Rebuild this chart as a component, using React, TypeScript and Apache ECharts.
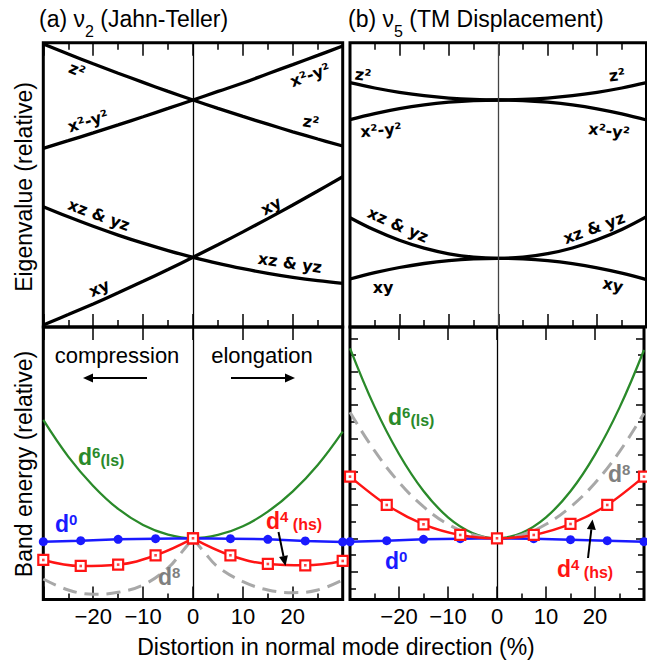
import React, { useEffect, useRef } from 'react';
import * as echarts from 'echarts';

// ---------- data ----------
const X_STEP5 = [-30, -25, -20, -15, -10, -5, 0, 5, 10, 15, 20, 25, 30];
const X_POINTS = [-30, -22.5, -15, -7.5, 0, 7.5, 15, 22.5, 30];
const X_D8_JT = [-30, -25, -20, -15, -10, -5, -2.5, 0, 2.5, 5, 10, 15, 20, 25, 30];

// (a) nu2 Jahn-Teller eigenvalues (relative)
const JT_Z2 = [28.3, 27.3, 26.32, 25.38, 24.46, 23.56, 22.7, 21.86, 21.06, 20.28, 19.52, 18.8, 18.1];
const JT_X2Y2 = [17.87, 18.63, 19.41, 20.21, 21.03, 21.86, 22.7, 23.56, 24.4, 25.33, 26.24, 27.16, 28.1];
const JT_XZYZ = [12.03, 11.02, 10.07, 9.19, 8.38, 7.64, 6.97, 6.36, 5.83, 5.36, 4.96, 4.63, 4.37];
const JT_XY = [0.2, 1.24, 2.31, 3.42, 4.57, 5.75, 6.97, 8.22, 9.51, 10.84, 12.2, 13.6, 15.03];

// (b) nu5 TM displacement eigenvalues (relative)
const TM_Z2 = [24.43, 23.9, 23.47, 23.13, 22.89, 22.75, 22.7, 22.75, 22.89, 23.13, 23.47, 23.9, 24.43];
const TM_X2Y2 = [20.73, 21.33, 21.83, 22.21, 22.48, 22.65, 22.7, 22.65, 22.48, 22.21, 21.82, 21.31, 20.7];
const TM_XZYZ = [10.93, 9.69, 8.67, 7.88, 7.32, 6.98, 6.87, 6.98, 7.33, 7.9, 8.72, 9.75, 11.03];
const TM_XY = [4.8, 5.43, 5.95, 6.35, 6.64, 6.81, 6.87, 6.81, 6.63, 6.33, 5.92, 5.39, 4.73];

// band energies (relative), Jahn-Teller
const JT_D0 = [-0.1, -0.07, -0.03, -0.01, 0, -0.01, -0.03, -0.08, -0.11];
const JT_D4 = [-0.65, -0.83, -0.79, -0.51, 0, -0.51, -0.77, -0.81, -0.68];
const JT_D6 = [3.55, 2.45, 1.57, 0.88, 0.4, 0.11, 0, 0.1, 0.36, 0.8, 1.41, 2.2, 3.2];
const JT_D8 = [-1.22, -1.55, -1.68, -1.62, -1.4, -0.89, -0.46, 0, -0.46, -0.86, -1.3, -1.55, -1.63, -1.55, -1.25];

// band energies (relative), TM displacement
const TM_D0 = [-0.1, -0.07, -0.03, -0.01, 0, -0.01, -0.04, -0.07, -0.1];
const TM_D4 = [1.85, 1.0, 0.42, 0.1, 0, 0.1, 0.43, 1.0, 1.85];
const TM_D6 = [5.7, 3.95, 2.53, 1.42, 0.63, 0.16, 0, 0.16, 0.63, 1.41, 2.51, 3.92, 5.65];
const TM_D8 = [3.78, 2.63, 1.68, 0.95, 0.42, 0.11, 0, 0.1, 0.42, 0.94, 1.66, 2.6, 3.75];

// axes
const X_RANGE = [-30, 30];
const EIG_RANGE = [0, 28.43];
const BAND_RANGE = [-1.836, 6.339];
const BAND_MAJOR_TICKS = [-1, 0, 1, 2, 3, 4, 5, 6];
const BAND_MINOR_TICKS = [-1.5, -0.5, 0.5, 1.5, 2.5, 3.5, 4.5, 5.5];

// ---------- styling ----------
const FONT = 'Liberation Sans, Arial, Helvetica, sans-serif';
const LBL_FONT = 'DejaVu Sans, Verdana, sans-serif';
const GREEN = '#2a8a2a';
const BLUE = '#1a1aff';
const RED = '#ff1414';
const GRAY = '#a8a8a8';
const GRAY_TXT = '#808080';

const zip = (xs: number[], ys: number[]) => xs.map((x, i) => [x, ys[i]]);
const half = (pts: number[][], side: number) =>
  pts.filter((p) => (side < 0 ? p[0] <= 0 : p[0] >= 0));

function xAxisDef(gridIndex: number, position: string, minor: boolean, labels: boolean, minorLen: number) {
  return {
    type: 'value',
    gridIndex,
    position,
    min: X_RANGE[0],
    max: X_RANGE[1],
    interval: 10,
    axisLine: { show: false, onZero: false },
    axisTick: { show: true, inside: true, length: 13, lineStyle: { color: '#000', width: 1.5 } },
    minorTick: { show: minor, splitNumber: 2, length: minorLen, lineStyle: { color: '#000', width: 1.5 } },
    splitLine: { show: false },
    minorSplitLine: { show: false },
    axisLabel: {
      show: labels,
      fontSize: 22,
      fontFamily: FONT,
      color: '#000',
      margin: 6,
      formatter: (v: number) =>
        v === -30 || v === 30 ? '' : v < 0 ? '\u2212' + Math.abs(v) : String(v),
    },
  };
}

function yAxisDef(gridIndex: number, range: number[], position = 'left', ticks: number[] | null = null, len = 8) {
  return {
    type: 'value',
    gridIndex,
    position,
    min: range[0],
    max: range[1],
    axisLine: { show: false, onZero: false },
    axisTick: ticks
      ? { show: true, inside: true, length: len, customValues: ticks, lineStyle: { color: '#000', width: 1.5 } }
      : { show: false },
    axisLabel: { show: false },
    splitLine: { show: false },
  };
}

const centerLine = (color: string) => ({
  silent: true,
  symbol: 'none',
  label: { show: false },
  lineStyle: { color, width: 1.3, type: 'solid' },
  data: [{ xAxis: 0 }],
});

function eigLine(xi: number, yi: number, ys: number[], mark?: string) {
  const s: any = {
    type: 'line',
    xAxisIndex: xi,
    yAxisIndex: yi,
    data: zip(X_STEP5, ys),
    smooth: 0.4,
    symbol: 'none',
    showSymbol: false,
    silent: true,
    lineStyle: { color: '#000', width: 3.3 },
    z: 3,
  };
  if (mark) s.markLine = centerLine(mark);
  return s;
}

function plainLine(xi: number, yi: number, data: number[][], color: string, width: number, dashed: boolean, smooth: number, mark?: string) {
  const s: any = {
    type: 'line',
    xAxisIndex: xi,
    yAxisIndex: yi,
    data,
    smooth,
    symbol: 'none',
    showSymbol: false,
    silent: true,
    lineStyle: { color, width, type: dashed ? [14, 8] : 'solid' },
    z: 3,
  };
  if (mark) s.markLine = centerLine(mark);
  return s;
}

function blueLine(xi: number, yi: number, ys: number[]) {
  return {
    type: 'line',
    xAxisIndex: xi,
    yAxisIndex: yi,
    data: zip(X_POINTS, ys),
    symbol: 'circle',
    symbolSize: 9,
    silent: true,
    itemStyle: { color: BLUE },
    lineStyle: { color: BLUE, width: 2.5 },
    z: 4,
  };
}

function redLine(xi: number, yi: number, data: number[][], smooth: number) {
  return {
    type: 'line',
    xAxisIndex: xi,
    yAxisIndex: yi,
    data,
    smooth,
    symbol: 'rect',
    symbolSize: 10,
    silent: true,
    itemStyle: { color: '#fff', borderColor: RED, borderWidth: 2.2 },
    lineStyle: { color: RED, width: 2.5 },
    z: 5,
  };
}

function redDots(xi: number, yi: number, ys: number[]) {
  return {
    type: 'scatter',
    xAxisIndex: xi,
    yAxisIndex: yi,
    data: zip(X_POINTS, ys),
    symbol: 'rect',
    symbolSize: 2.6,
    silent: true,
    itemStyle: { color: RED },
    z: 6,
  };
}

function orbLabel(text: string, x: number, y: number, rotation: number) {
  return {
    type: 'text',
    x,
    y,
    rotation,
    z: 20,
    silent: true,
    style: {
      text,
      fontSize: 16,
      fontWeight: 'bold',
      fontFamily: LBL_FONT,
      fill: '#000',
      align: 'center',
      verticalAlign: 'middle',
    },
  };
}

function dLabel(sup: string, tail: string, color: string, x: number, y: number) {
  return {
    type: 'text',
    z: 20,
    silent: true,
    style: {
      x,
      y,
      text: '{d|d}{p|' + sup + '}' + (tail ? '{q|' + tail + '}' : ''),
      verticalAlign: 'top',
      align: 'left',
      rich: {
        d: { fontSize: 23, fontWeight: 'bold', fontFamily: FONT, fill: color, lineHeight: 23, verticalAlign: 'bottom' },
        p: { fontSize: 15, fontWeight: 'bold', fontFamily: FONT, fill: color, lineHeight: 15, verticalAlign: 'top' },
        q: { fontSize: 16, fontWeight: 'bold', fontFamily: FONT, fill: color, lineHeight: 16, verticalAlign: 'bottom' },
      },
    },
  };
}

function panelTitle(letter: string, sub: string, rest: string, x: number) {
  return {
    type: 'text',
    z: 20,
    silent: true,
    style: {
      x,
      y: 7,
      text: '{m|(' + letter + ') \u03bd}{s|' + sub + '}{m| ' + rest + '}',
      verticalAlign: 'top',
      align: 'left',
      rich: {
        m: { fontSize: 23, fontFamily: FONT, fill: '#000', lineHeight: 26, verticalAlign: 'top' },
        s: { fontSize: 16, fontFamily: FONT, fill: '#000', lineHeight: 16, padding: [16, 0, 0, 0], verticalAlign: 'top' },
      },
    },
  };
}

function arrow(x1: number, y1: number, x2: number, y2: number) {
  const dx = x2 - x1;
  const dy = y2 - y1;
  const L = Math.sqrt(dx * dx + dy * dy);
  const ux = dx / L;
  const uy = dy / L;
  const bx = x2 - ux * 10;
  const by = y2 - uy * 10;
  const px = -uy * 4.5;
  const py = ux * 4.5;
  return [
    { type: 'line', z: 20, silent: true, shape: { x1, y1, x2: bx, y2: by }, style: { stroke: '#000', lineWidth: 2 } },
    {
      type: 'polygon',
      z: 20,
      silent: true,
      shape: { points: [[x2, y2], [bx + px, by + py], [bx - px, by - py]] },
      style: { fill: '#000' },
    },
  ];
}

const App: React.FC = () => {
  const ref = useRef<HTMLDivElement>(null);

  useEffect(() => {
    document.body.style.margin = '0';
    if (!ref.current) return;
    const chart = echarts.init(ref.current, undefined, { renderer: 'svg' });

    const gridStyle = { show: true, borderColor: '#000', borderWidth: 3, backgroundColor: 'transparent' };

    const jtD4 = zip(X_POINTS, JT_D4);
    const jtD8 = zip(X_D8_JT, JT_D8);

    const option: any = {
      animation: false,
      grid: [
        { left: 43.3, top: 42.7, width: 299.4, height: 284.3, ...gridStyle },
        { left: 350, top: 42.7, width: 296.5, height: 284.3, ...gridStyle },
        { left: 43.3, top: 327, width: 299.4, height: 272.5, ...gridStyle },
        { left: 350, top: 327, width: 296.5, height: 272.5, ...gridStyle },
      ],
      xAxis: [
        xAxisDef(0, 'bottom', true, false, 7),
        xAxisDef(0, 'top', true, false, 7),
        xAxisDef(1, 'bottom', true, false, 7),
        xAxisDef(1, 'top', true, false, 7),
        xAxisDef(2, 'bottom', true, true, 6),
        xAxisDef(2, 'top', false, false, 6),
        xAxisDef(3, 'bottom', true, true, 6),
        xAxisDef(3, 'top', false, false, 6),
      ],
      yAxis: [
        yAxisDef(0, EIG_RANGE),
        yAxisDef(1, EIG_RANGE),
        yAxisDef(2, BAND_RANGE),
        yAxisDef(3, BAND_RANGE, 'left', BAND_MAJOR_TICKS, 8),
        yAxisDef(3, BAND_RANGE, 'left', BAND_MINOR_TICKS, 6),
        yAxisDef(3, BAND_RANGE, 'right', BAND_MAJOR_TICKS, 8),
        yAxisDef(3, BAND_RANGE, 'right', BAND_MINOR_TICKS, 6),
      ],
      series: [
        // (a) eigenvalues
        eigLine(0, 0, JT_Z2, '#000'),
        eigLine(0, 0, JT_X2Y2),
        eigLine(0, 0, JT_XZYZ),
        eigLine(0, 0, JT_XY),
        // (b) eigenvalues
        eigLine(2, 1, TM_Z2, '#444'),
        eigLine(2, 1, TM_X2Y2),
        eigLine(2, 1, TM_XZYZ),
        eigLine(2, 1, TM_XY),
        // band energy, Jahn-Teller
        plainLine(4, 2, zip(X_STEP5, JT_D6), GREEN, 2.3, false, 0.4, '#000'),
        plainLine(4, 2, half(jtD8, -1), GRAY, 3, true, 0.4),
        plainLine(4, 2, half(jtD8, 1), GRAY, 3, true, 0.4),
        blueLine(4, 2, JT_D0),
        redLine(4, 2, half(jtD4, -1), 0.4),
        redLine(4, 2, half(jtD4, 1), 0.4),
        redDots(4, 2, JT_D4),
        // band energy, TM displacement
        plainLine(6, 3, zip(X_STEP5, TM_D6), GREEN, 2.3, false, 0.4, '#000'),
        plainLine(6, 3, zip(X_STEP5, TM_D8), GRAY, 3, true, 0.4),
        blueLine(6, 3, TM_D0),
        redLine(6, 3, zip(X_POINTS, TM_D4), 0.3),
        redDots(6, 3, TM_D4),
      ],
      graphic: [
        panelTitle('a', '2', '(Jahn-Teller)', 39),
        panelTitle('b', '5', '(TM Displacement)', 348),
        {
          type: 'text', x: 24, y: 187, rotation: Math.PI / 2, silent: true,
          style: { text: 'Eigenvalue (relative)', fontSize: 23, fontFamily: FONT, fill: '#000', align: 'center', verticalAlign: 'middle' },
        },
        {
          type: 'text', x: 24, y: 464, rotation: Math.PI / 2, silent: true,
          style: { text: 'Band energy (relative)', fontSize: 23, fontFamily: FONT, fill: '#000', align: 'center', verticalAlign: 'middle' },
        },
        {
          type: 'text', x: 336, y: 647, silent: true,
          style: { text: 'Distortion in normal mode direction (%)', fontSize: 23, fontFamily: FONT, fill: '#000', align: 'center', verticalAlign: 'middle' },
        },
        {
          type: 'text', x: 117, y: 355, silent: true, z: 20,
          style: { text: 'compression', fontSize: 22, fontFamily: FONT, fill: '#000', align: 'center', verticalAlign: 'middle' },
        },
        {
          type: 'text', x: 262, y: 355, silent: true, z: 20,
          style: { text: 'elongation', fontSize: 22, fontFamily: FONT, fill: '#000', align: 'center', verticalAlign: 'middle' },
        },
        ...arrow(147, 378, 83, 378),
        ...arrow(231, 378, 295, 378),
        ...arrow(278.5, 532, 285.5, 566),
        ...arrow(588, 558, 592.5, 519.5),
        // (a) orbital labels
        orbLabel('z\u00b2', 77, 70, -0.38),
        orbLabel('x\u00b2-y\u00b2', 88, 121, 0.3),
        orbLabel('x\u00b2-y\u00b2', 310, 75, 0.35),
        orbLabel('z\u00b2', 311, 122, -0.15),
        orbLabel('xz & yz', 99, 215, -0.35),
        orbLabel('xy', 271, 206, 0.49),
        orbLabel('xz & yz', 290, 263, -0.15),
        orbLabel('xy', 99, 288, 0.41),
        // (b) orbital labels
        orbLabel('z\u00b2', 363, 75, -0.12),
        orbLabel('z\u00b2', 617, 75, 0.12),
        orbLabel('x\u00b2-y\u00b2', 381, 130, 0.08),
        orbLabel('x\u00b2-y\u00b2', 609, 131, -0.12),
        orbLabel('xz & yz', 398, 225, -0.42),
        orbLabel('xz & yz', 594, 228, 0.35),
        orbLabel('xy', 383, 287, 0),
        orbLabel('xy', 613, 285, -0.2),
        // band labels
        dLabel('6', '(ls)', GREEN, 78, 445),
        dLabel('0', '', BLUE, 55, 512),
        dLabel('4', ' (hs)', RED, 266, 509),
        dLabel('8', '', GRAY_TXT, 158, 565),
        dLabel('6', '(ls)', GREEN, 388, 405),
        dLabel('8', '', GRAY_TXT, 608, 462),
        dLabel('0', '', BLUE, 385, 549),
        dLabel('4', ' (hs)', RED, 557, 557),
      ],
    };

    chart.setOption(option);
    return () => chart.dispose();
  }, []);

  return <div ref={ref} style={{ position: 'absolute', left: 0, top: 0, width: 647, height: 660 }} />;
};

export default App;
